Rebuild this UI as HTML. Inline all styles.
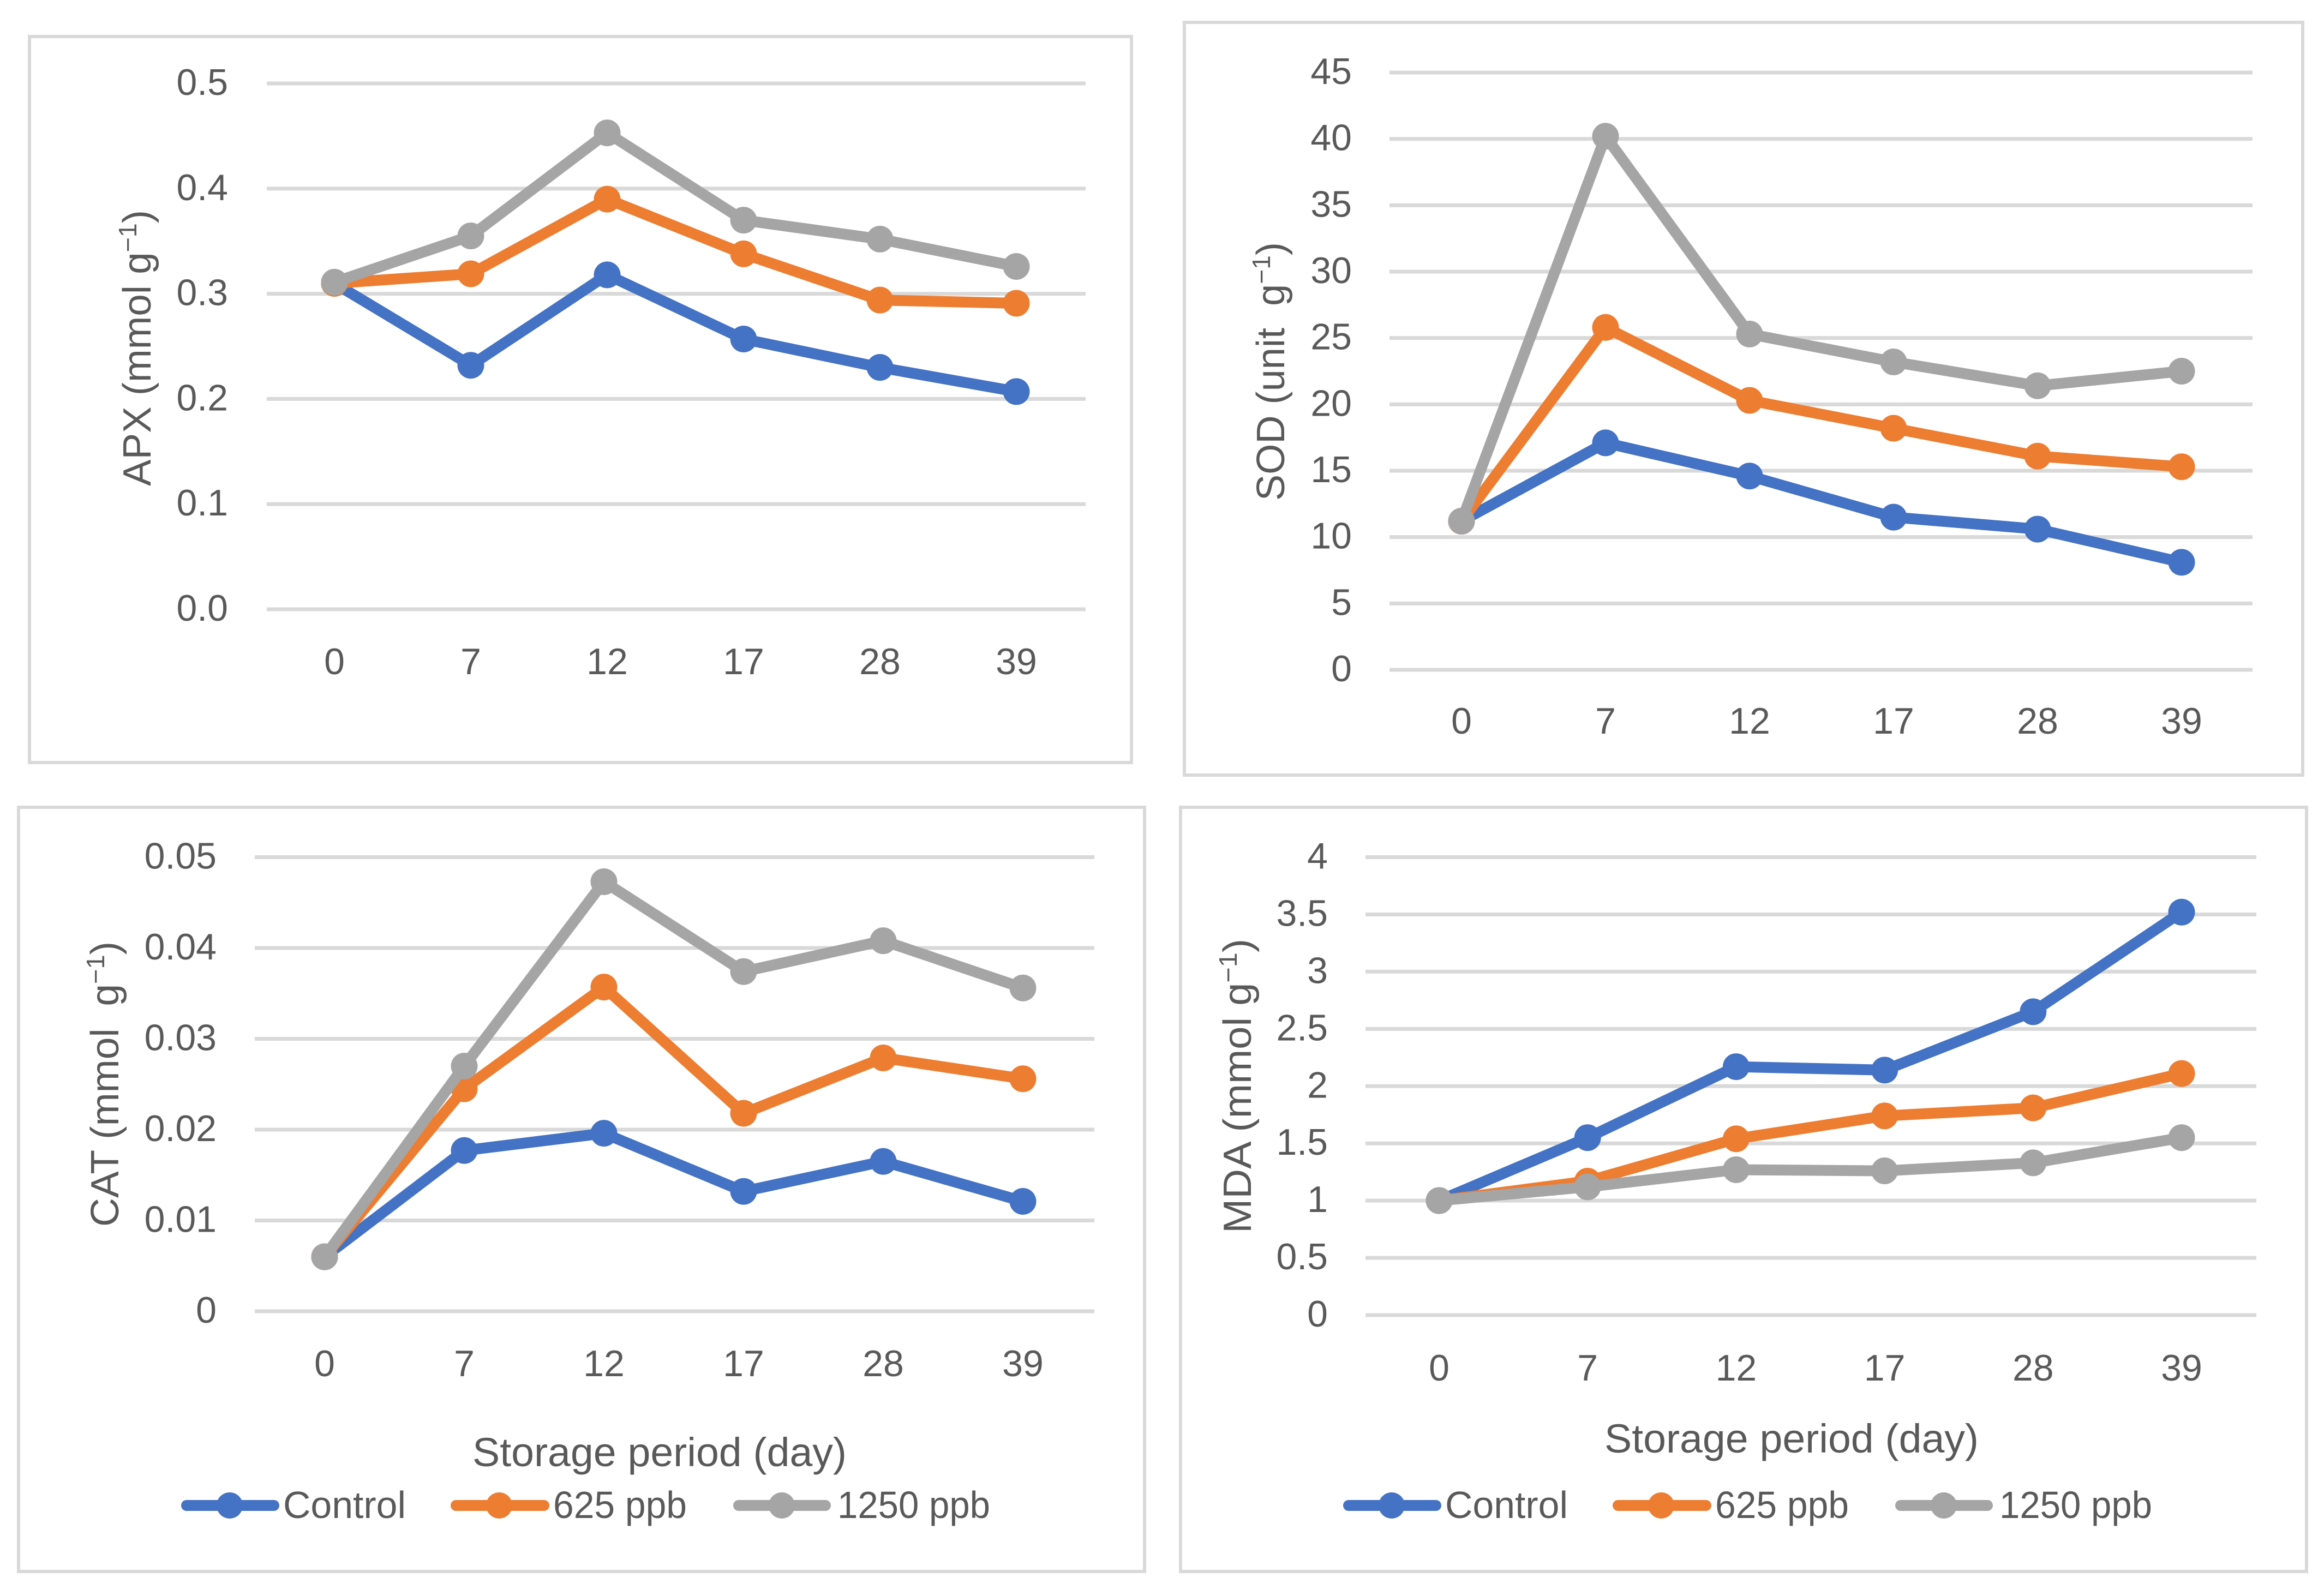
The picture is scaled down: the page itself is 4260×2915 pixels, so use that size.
<!DOCTYPE html>
<html lang="en">
<head>
<meta charset="utf-8">
<title>Antioxidant enzymes during storage</title>
<style>
html,body{margin:0;padding:0;background:#fff;width:4260px;height:2915px;overflow:hidden}
svg{display:block}
text{font-family:"Liberation Sans",sans-serif;fill:#595959;white-space:pre}
</style>
</head>
<body>
<svg id="fig" width="4260" height="2915" viewBox="0 0 4260 2915" xmlns="http://www.w3.org/2000/svg">
  <rect width="4260" height="2915" fill="#ffffff"/>

  <g id="apx">
    <rect x="54" y="67" width="2020" height="1331" fill="#fff" stroke="#d9d9d9" stroke-width="6"/>
    <text transform="translate(276,891) rotate(-90)" font-size="72" textLength="506" lengthAdjust="spacingAndGlyphs">APX (mmol g<tspan dy="-26" font-size="46">−1</tspan><tspan dy="26">)</tspan></text>
  </g>

  <g id="sod">
    <rect x="2171" y="41" width="2050" height="1380" fill="#fff" stroke="#d9d9d9" stroke-width="6"/>
    <text transform="translate(2354,918) rotate(-90)" font-size="72" textLength="474" lengthAdjust="spacingAndGlyphs">SOD (unit  g<tspan dy="-26" font-size="46">−1</tspan><tspan dy="26">)</tspan></text>
  </g>

  <g id="cat">
    <rect x="34" y="1480" width="2064" height="1401" fill="#fff" stroke="#d9d9d9" stroke-width="6"/>
    <text transform="translate(217,2249) rotate(-90)" font-size="72" textLength="523" lengthAdjust="spacingAndGlyphs">CAT (mmol  g<tspan dy="-26" font-size="46">−1</tspan><tspan dy="26">)</tspan></text>
    <text x="866" y="2688" font-size="74" textLength="686" lengthAdjust="spacingAndGlyphs">Storage period (day)</text>
    <g>
      <g>
        <line x1="342" y1="2760" x2="502" y2="2760" stroke="#4472c4" stroke-width="20" stroke-linecap="round"/>
        <circle cx="421" cy="2760" r="24" fill="#4472c4"/>
        <text x="519" y="2783" font-size="70" textLength="225" lengthAdjust="spacingAndGlyphs">Control</text>
      </g>
      <g>
        <line x1="836" y1="2760" x2="997" y2="2760" stroke="#ed7d31" stroke-width="20" stroke-linecap="round"/>
        <circle cx="915" cy="2760" r="24" fill="#ed7d31"/>
        <text x="1014" y="2783" font-size="70" textLength="245" lengthAdjust="spacingAndGlyphs">625 ppb</text>
      </g>
      <g>
        <line x1="1354" y1="2760" x2="1513" y2="2760" stroke="#a5a5a5" stroke-width="20" stroke-linecap="round"/>
        <circle cx="1433" cy="2760" r="24" fill="#a5a5a5"/>
        <text x="1535" y="2783" font-size="70" textLength="280" lengthAdjust="spacingAndGlyphs">1250 ppb</text>
      </g>
    </g>
  </g>

  <g id="mda">
    <rect x="2164" y="1480" width="2064" height="1401" fill="#fff" stroke="#d9d9d9" stroke-width="6"/>
    <text transform="translate(2293,2261) rotate(-90)" font-size="72" textLength="540" lengthAdjust="spacingAndGlyphs">MDA (mmol g<tspan dy="-26" font-size="46">−1</tspan><tspan dy="26">)</tspan></text>
    <text x="2941" y="2663" font-size="74" textLength="686" lengthAdjust="spacingAndGlyphs">Storage period (day)</text>
    <g>
      <g>
        <line x1="2472" y1="2760" x2="2632" y2="2760" stroke="#4472c4" stroke-width="20" stroke-linecap="round"/>
        <circle cx="2551" cy="2760" r="24" fill="#4472c4"/>
        <text x="2649" y="2783" font-size="70" textLength="225" lengthAdjust="spacingAndGlyphs">Control</text>
      </g>
      <g>
        <line x1="2966" y1="2760" x2="3127" y2="2760" stroke="#ed7d31" stroke-width="20" stroke-linecap="round"/>
        <circle cx="3045" cy="2760" r="24" fill="#ed7d31"/>
        <text x="3144" y="2783" font-size="70" textLength="245" lengthAdjust="spacingAndGlyphs">625 ppb</text>
      </g>
      <g>
        <line x1="3484" y1="2760" x2="3643" y2="2760" stroke="#a5a5a5" stroke-width="20" stroke-linecap="round"/>
        <circle cx="3563" cy="2760" r="24" fill="#a5a5a5"/>
        <text x="3665" y="2783" font-size="70" textLength="280" lengthAdjust="spacingAndGlyphs">1250 ppb</text>
      </g>
    </g>
  </g>
</svg>
<script>
// Shared categories
var days = ["0", "7", "12", "17", "28", "39"];

// APX values and ticks
var apxControl = [0.310, 0.232, 0.318, 0.257, 0.230, 0.207];
var apx625 = [0.310, 0.319, 0.390, 0.338, 0.294, 0.291];
var apx1250 = [0.311, 0.355, 0.453, 0.370, 0.352, 0.326];
var apxTicks = ["0.0", "0.1", "0.2", "0.3", "0.4", "0.5"];

// SOD values and ticks
var sodControl = [11.2, 17.1, 14.6, 11.5, 10.6, 8.1];
var sod625 = [11.2, 25.8, 20.3, 18.2, 16.1, 15.3];
var sod1250 = [11.2, 40.2, 25.3, 23.2, 21.4, 22.5];
var sodTicks = ["0", "5", "10", "15", "20", "25", "30", "35", "40", "45"];

// CAT values and ticks
var catControl = [0.0060, 0.0177, 0.0196, 0.0132, 0.0165, 0.0121];
var cat625 = [0.0060, 0.0245, 0.0357, 0.0218, 0.0279, 0.0256];
var cat1250 = [0.0060, 0.0270, 0.0473, 0.0374, 0.0408, 0.0356];
var catTicks = ["0", "0.01", "0.02", "0.03", "0.04", "0.05"];

// MDA values and ticks
var mdaControl = [1.00, 1.55, 2.17, 2.14, 2.65, 3.52];
var mda625 = [1.00, 1.17, 1.54, 1.74, 1.81, 2.11];
var mda1250 = [1.00, 1.12, 1.27, 1.26, 1.33, 1.55];
var mdaTicks = ["0", "0.5", "1", "1.5", "2", "2.5", "3", "3.5", "4"];

var NS = "http://www.w3.org/2000/svg";

function make(tag, parent, attrs) {
  var el = document.createElementNS(NS, tag);
  for (var k in attrs) el.setAttribute(k, attrs[k]);
  parent.appendChild(el);
  return el;
}

function drawChart(id, layout, ticks, control, mid, high) {
  var group = document.getElementById(id);
  var maxTick = parseFloat(ticks[ticks.length - 1]);
  var yScale = function (v) { return layout.yZero + (layout.yTop - layout.yZero) * v / maxTick; };
  var xScale = function (i) { return layout.xFirst + (layout.xLast - layout.xFirst) * i / (days.length - 1); };

  ticks.forEach(function (label) {
    var y = yScale(parseFloat(label));
    var grid = make("line", group, { x1: layout.gridLeft, x2: layout.gridRight, y1: y, y2: y, stroke: "#d9d9d9", "stroke-width": 7 });
    
    
    var tick = make("text", group, { x: layout.tickRight, y: y + 21, "text-anchor": "end", "font-size": 68 });
    
    
    tick.textContent = label;
  });

  days.forEach(function (label, i) {
    var tick = make("text", group, { x: xScale(i), y: layout.xLabelY, "text-anchor": "middle", "font-size": 68 });
    
    
    tick.textContent = label;
  });

  [[control, "#4472c4", "control"], [mid, "#ed7d31", "625-ppb"], [high, "#a5a5a5", "1250-ppb"]].forEach(function (s) {
    var pts = s[0].map(function (v, i) { return xScale(i) + "," + yScale(v); }).join(" ");
    var line = make("polyline", group, { points: pts, fill: "none", stroke: s[1], "stroke-width": 20, "stroke-linejoin": "round" });
    
    
    s[0].forEach(function (v, i) {
      var dot = make("circle", group, { cx: xScale(i), cy: yScale(v), r: 24.5, fill: s[1] });
      
      
    });
  });
}

drawChart("apx", { gridLeft: 489, gridRight: 1990, yTop: 153, yZero: 1117, xFirst: 613, xLast: 1863, tickRight: 418, xLabelY: 1236 }, apxTicks, apxControl, apx625, apx1250);
drawChart("sod", { gridLeft: 2547, gridRight: 4129, yTop: 133, yZero: 1228, xFirst: 2679, xLast: 3999, tickRight: 2478, xLabelY: 1345 }, sodTicks, sodControl, sod625, sod1250);
drawChart("cat", { gridLeft: 467, gridRight: 2006, yTop: 1571.5, yZero: 2404, xFirst: 595, xLast: 1875, tickRight: 397, xLabelY: 2523 }, catTicks, catControl, cat625, cat1250);
drawChart("mda", { gridLeft: 2503, gridRight: 4136, yTop: 1571.5, yZero: 2411, xFirst: 2638, xLast: 3999, tickRight: 2434, xLabelY: 2531 }, mdaTicks, mdaControl, mda625, mda1250);
</script>
</body>
</html>
